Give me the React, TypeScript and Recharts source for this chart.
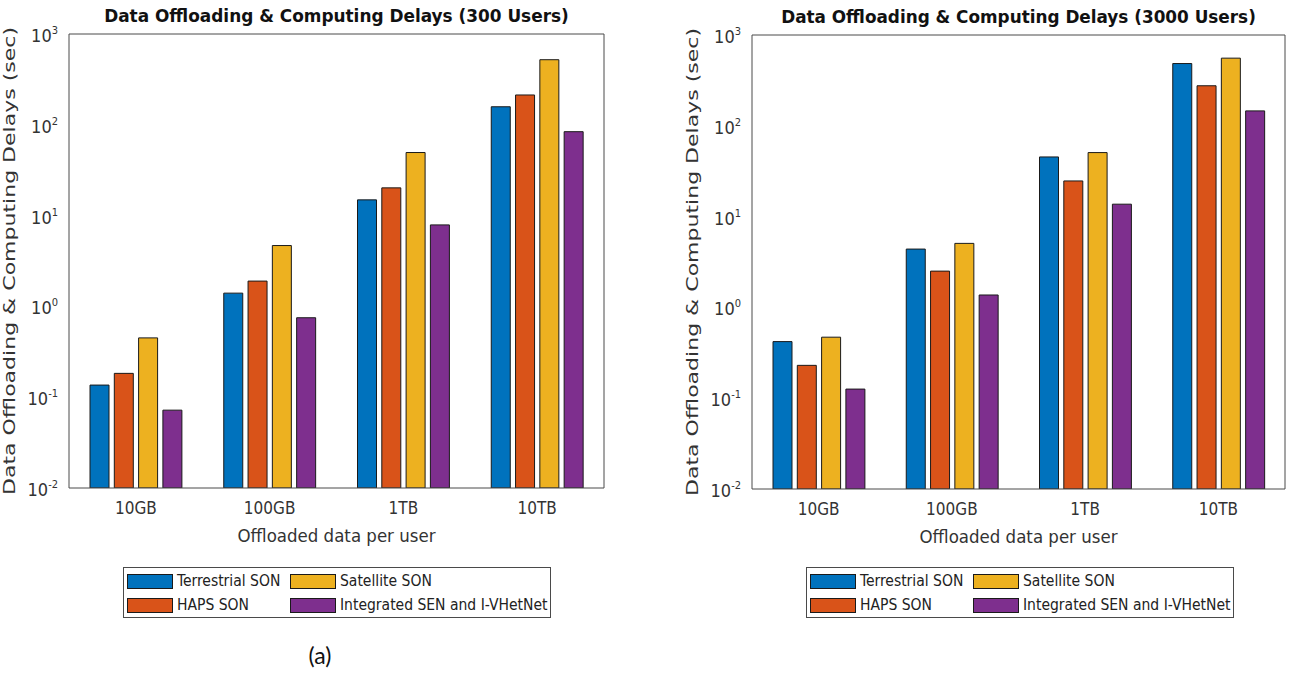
import React from "react";
import { BarChart, Bar, XAxis, YAxis, Legend } from "recharts";

// offloaded data per user (categories)
const sizes = ["10GB", "100GB", "1TB", "10TB"];

const seriesKeys = ["terrestrial", "haps", "satellite", "integrated"];
const seriesNames = ["Terrestrial SON", "HAPS SON", "Satellite SON", "Integrated SEN and I-VHetNet"];
const seriesColors = ["#0072BD", "#D95319", "#EDB120", "#7E2F8E"];

// delays in seconds, 300 users
const terrestrial300 = [0.136, 1.4, 14.9, 158];
const haps300 = [0.183, 1.9, 20.2, 213];
const satellite300 = [0.45, 4.68, 49.5, 521];
const integrated300 = [0.072, 0.75, 7.9, 84];

// delays in seconds, 3000 users
const terrestrial3000 = [0.42, 4.39, 45.4, 485];
const haps3000 = [0.23, 2.51, 24.7, 276];
const satellite3000 = [0.47, 5.07, 50.7, 556];
const integrated3000 = [0.126, 1.37, 13.7, 146];

const decadeTicks = [0.01, 0.1, 1, 10, 100, 1000];
const minorTicks = [
  0.02, 0.03, 0.04, 0.05, 0.06, 0.07, 0.08, 0.09,
  0.2, 0.3, 0.4, 0.5, 0.6, 0.7, 0.8, 0.9,
  2, 3, 4, 5, 6, 7, 8, 9,
  20, 30, 40, 50, 60, 70, 80, 90,
  200, 300, 400, 500, 600, 700, 800, 900,
];

const AXIS = "#4a4a4a";
const TEXT = "#333";
const COND = "'DejaVu Sans Condensed', 'DejaVu Sans', sans-serif";

const toRows = (cols: number[][]) =>
  sizes.map((size, i) => {
    const row: any = { size };
    seriesKeys.forEach((k, s) => (row[k] = cols[s][i]));
    return row;
  });

const data300 = toRows([terrestrial300, haps300, satellite300, integrated300]);
const data3000 = toRows([terrestrial3000, haps3000, satellite3000, integrated3000]);

const logAxis = {
  scale: "log" as const,
  type: "number" as const,
  domain: [0.01, 1000],
  allowDataOverflow: true,
  interval: 0 as const,
};

const PowTick = (props: any) => {
  const { x, y, payload } = props;
  const exp = Math.round(Math.log10(payload.value));
  return (
    <text x={x} y={y + 8} textAnchor="end" fill={TEXT} fontFamily={COND} fontSize={18}>
      10
      <tspan dy={-8} fontSize={11}>{exp}</tspan>
    </text>
  );
};

const ChartTitle = (props: any) => {
  const { viewBox, text } = props;
  return (
    <text
      x={viewBox.x + viewBox.width / 2}
      y={viewBox.y - 12}
      textAnchor="middle"
      fill="#111"
      fontFamily={COND}
      fontWeight="bold"
      fontSize={17}
      textLength={text.length * 10.1}
      lengthAdjust="spacingAndGlyphs"
    >
      {text}
    </text>
  );
};

const XTitle = (props: any) => {
  const { viewBox } = props;
  return (
    <text
      x={viewBox.x + viewBox.width / 2}
      y={viewBox.y + 54}
      textAnchor="middle"
      fill={TEXT}
      fontFamily={COND}
      fontSize={18}
      textLength={198}
      lengthAdjust="spacingAndGlyphs"
    >
      Offloaded data per user
    </text>
  );
};

const YTitle = (props: any) => {
  const { viewBox } = props;
  const cy = viewBox.y + viewBox.height / 2;
  return (
    <text
      transform={`translate(15, ${cy}) rotate(-90)`}
      textAnchor="middle"
      fill={TEXT}
      fontFamily="'DejaVu Sans', sans-serif"
      fontSize={16.5}
      textLength={468}
      lengthAdjust="spacingAndGlyphs"
    >
      Data Offloading &amp; Computing Delays (sec)
    </text>
  );
};

const LegendBox = (props: any) => {
  const items = [...(props.payload || [])].sort(
    (a: any, b: any) => seriesNames.indexOf(a.value) - seriesNames.indexOf(b.value)
  );
  return (
    <div
      style={{
        boxSizing: "border-box",
        width: 428,
        height: 51,
        border: `1px solid ${AXIS}`,
        background: "#fff",
        display: "grid",
        gridTemplateColumns: "163px auto",
        gridTemplateRows: "24px 24px",
        gridAutoFlow: "column",
        padding: "1px 3px",
        fontFamily: COND,
        fontSize: 15.5,
        color: "#222",
      }}
    >
      {items.map((it: any) => (
        <div key={it.value} style={{ display: "flex", alignItems: "center" }}>
          <span
            style={{
              display: "inline-block",
              flexShrink: 0,
              boxSizing: "border-box",
              width: 46,
              height: 15,
              background: it.color,
              border: "1px solid #1a1a1a",
              marginRight: 4,
            }}
          />
          <span style={{ whiteSpace: "nowrap" }}>{it.value}</span>
        </div>
      ))}
    </div>
  );
};

function DelayPanel({ title, data, left, top, right }: any) {
  const height = 681;
  const plotBottom = top + 454;
  return (
    <div style={{ position: "absolute", left, top: 0 }}>
      <BarChart
        width={609}
        height={height}
        data={data}
        margin={{ top, right, bottom: height - 30 - plotBottom, left: 0 }}
        barSize={19}
        barGap={5.3}
      >
        <XAxis
          xAxisId="x"
          dataKey="size"
          tickLine={false}
          tickSize={0}
          tickMargin={14}
          axisLine={{ stroke: AXIS }}
          tick={{ fill: TEXT, fontSize: 17, fontFamily: COND }}
          interval={0}
          label={<XTitle />}
        />
        <XAxis xAxisId="xin" dataKey="size" mirror height={1} axisLine={false} tick={false} tickSize={5} tickLine={{ stroke: "#888" }} interval={0} />
        <XAxis
          xAxisId="top"
          orientation="top"
          dataKey="size"
          mirror
          height={1}
          axisLine={{ stroke: AXIS }}
          tick={false}
          tickSize={6}
          tickLine={{ stroke: AXIS }}
          interval={0}
          label={<ChartTitle text={title} />}
        />
        <YAxis
          yAxisId="y"
          {...logAxis}
          ticks={decadeTicks}
          width={69}
          tickLine={false}
          tickSize={0}
          tickMargin={11}
          axisLine={{ stroke: AXIS }}
          tick={<PowTick />}
          label={<YTitle />}
        />
        <YAxis yAxisId="yMaj" {...logAxis} ticks={decadeTicks} mirror width={1} axisLine={false} tick={false} tickSize={6} tickLine={{ stroke: AXIS }} />
        <YAxis yAxisId="yMin" {...logAxis} ticks={minorTicks} mirror width={1} axisLine={false} tick={false} tickSize={3} tickLine={{ stroke: AXIS }} />
        <YAxis yAxisId="rMaj" orientation="right" {...logAxis} ticks={decadeTicks} mirror width={1} axisLine={{ stroke: AXIS }} tick={false} tickSize={6} tickLine={{ stroke: AXIS }} />
        <YAxis yAxisId="rMin" orientation="right" {...logAxis} ticks={minorTicks} mirror width={1} axisLine={false} tick={false} tickSize={3} tickLine={{ stroke: AXIS }} />
        {seriesKeys.map((k, s) => (
          <Bar
            key={k}
            xAxisId="x"
            yAxisId="y"
            dataKey={k}
            name={seriesNames[s]}
            fill={seriesColors[s]}
            stroke="#1a1a1a"
            strokeWidth={1}
            isAnimationActive={false}
          />
        ))}
        <Legend
          layout="horizontal"
          verticalAlign="middle"
          align="center"
          wrapperStyle={{ top: 567, left: 123, width: 428, height: 51 }}
          content={<LegendBox />}
        />
      </BarChart>
    </div>
  );
}

export default function App() {
  return (
    <div style={{ position: "absolute", left: 0, top: 0, width: 1292, height: 681, background: "#fff", overflow: "hidden" }}>
      <DelayPanel title="Data Offloading & Computing Delays (300 Users)" data={data300} left={0} top={34} right={5} />
      <DelayPanel title="Data Offloading & Computing Delays (3000 Users)" data={data3000} left={683} top={35} right={7} />
      <div
        style={{
          position: "absolute",
          left: 300,
          top: 641,
          width: 40,
          textAlign: "center",
          fontFamily: "Lato, 'Open Sans', sans-serif",
          fontSize: 23,
          color: "#111",
        }}
      >
        (a)
      </div>
    </div>
  );
}
